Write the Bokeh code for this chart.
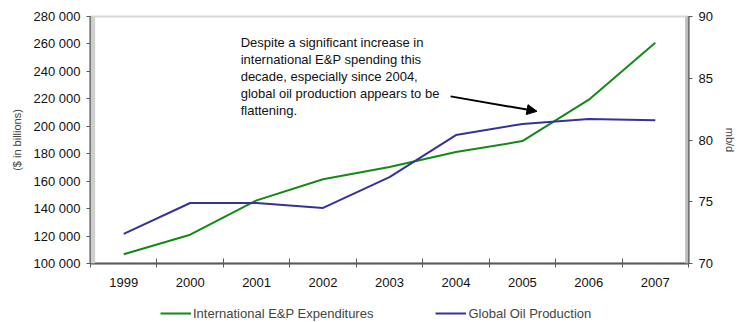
from bokeh.plotting import figure
from bokeh.layouts import column
from bokeh.models import (Range1d, LinearAxis, FixedTicker, Label, Arrow, NormalHead,
                          Legend, LegendItem, BoxAnnotation)
from bokeh.embed import file_html
from bokeh.resources import INLINE

# ---- data ----
years = [1999, 2000, 2001, 2002, 2003, 2004, 2005, 2006, 2007]
year_labels = ["1999", "2000", "2001", "2002", "2003", "2004", "2005", "2006", "2007"]
ep_expenditures = [106800, 121000, 146000, 161400, 170300, 181200, 189200, 219400, 260900]
oil_production = [72.4, 74.9, 74.9, 74.5, 77.0, 80.4, 81.3, 81.7, 81.6]
left_ticks = [100000, 120000, 140000, 160000, 180000, 200000, 220000, 240000, 260000, 280000]
left_tick_labels = ["100 000", "120 000", "140 000", "160 000", "180 000",
                    "200 000", "220 000", "240 000", "260 000", "280 000"]
right_ticks = [70, 75, 80, 85, 90]
series_names = ["International E&P Expenditures", "Global Oil Production"]
note = ("Despite a significant increase in\ninternational E&P spending this\n"
        "decade, especially since 2004,\nglobal oil production appears to be\nflattening.")

FONT = "Liberation Sans"
GREEN = "#138a13"
BLUE = "#333399"
AXIS = "#5a5a5a"
NAN = float("nan")

p = figure(width=742, height=300, output_backend="svg", toolbar_location=None,
           x_range=Range1d(1998.5, 2007.5), y_range=Range1d(100000, 280000),
           min_border_left=90, min_border_right=54, min_border_top=16, min_border_bottom=37)
p.extra_y_ranges = {"prod": Range1d(70, 90)}
p.xgrid.visible = False
p.ygrid.visible = False
p.outline_line_color = "#d8d8d8"
p.outline_line_width = 2
p.background_fill_color = "white"
p.border_fill_color = "white"

# decorative gray bands at frame edges
p.add_layout(BoxAnnotation(left=1998.5, right=1998.57, fill_color="#cfcfcf", fill_alpha=1,
                           line_alpha=0))
p.add_layout(BoxAnnotation(left=2007.45, right=2007.5, fill_color="#bdbdbd", fill_alpha=1,
                           line_alpha=0))

r1 = p.line(years, ep_expenditures, line_color=GREEN, line_width=2)
r2 = p.line(years, oil_production, line_color=BLUE, line_width=2, y_range_name="prod")

# x axis
xa = p.xaxis[0]
xa.ticker = FixedTicker(ticks=years, minor_ticks=[y - 0.5 for y in years] + [2007.5])
xa.major_label_overrides = {y: l for y, l in zip(years, year_labels)}
xa.major_tick_out = 0
xa.major_tick_in = 0
xa.minor_tick_out = 4
xa.minor_tick_in = 5
xa.minor_tick_line_color = AXIS
xa.axis_line_color = AXIS
xa.axis_line_width = 2
xa.major_label_standoff = 10
xa.major_label_text_font = FONT
xa.major_label_text_font_size = "13px"
xa.major_label_text_color = "#111111"

# left axis
ya = p.yaxis[0]
ya.ticker = FixedTicker(ticks=left_ticks, minor_ticks=[])
ya.major_label_overrides = {t: l for t, l in zip(left_ticks, left_tick_labels)}
ya.major_tick_out = 4
ya.major_tick_in = 0
ya.major_tick_line_color = AXIS
ya.axis_line_color = AXIS
ya.axis_line_width = 2
ya.major_label_standoff = 6
ya.major_label_text_font = FONT
ya.major_label_text_font_size = "13px"
ya.major_label_text_color = "#111111"
ya.axis_label = "($ in billions)"
ya.axis_label_text_font = FONT
ya.axis_label_text_font_size = "11px"
ya.axis_label_text_font_style = "normal"
ya.axis_label_standoff = 8

# right axis
ra = LinearAxis(y_range_name="prod", ticker=FixedTicker(ticks=right_ticks, minor_ticks=[]))
ra.major_tick_out = 4
ra.major_tick_in = 0
ra.major_tick_line_color = AXIS
ra.axis_line_color = AXIS
ra.axis_line_width = 2
ra.major_label_standoff = 6
ra.major_label_text_font = FONT
ra.major_label_text_font_size = "13px"
ra.major_label_text_color = "#111111"
ra.axis_label = "mb/d"
ra.axis_label_text_font = FONT
ra.axis_label_text_font_size = "11px"
ra.axis_label_text_font_style = "normal"
ra.axis_label_standoff = 8
p.add_layout(ra, "right")

# annotation
p.add_layout(Label(x=2000.76, y=266200, text=note, text_font=FONT, text_font_size="13px",
                   text_baseline="top", text_align="left", text_line_height=1.12,
                   text_color="#111111"))
p.add_layout(Arrow(end=NormalHead(size=10, fill_color="black", line_color="black"),
                   x_start=2003.92, y_start=221800, x_end=2005.22, y_end=210900,
                   line_color="black", line_width=2))

# legend strip below the chart (its frame is aligned with the chart frame by the column)
lg = figure(width=742, height=22, output_backend="svg", toolbar_location=None,
            x_axis_location=None, y_axis_location=None, min_border=0,
            x_range=Range1d(0, 1), y_range=Range1d(0, 1))
lg.grid.visible = False
lg.outline_line_color = None
lg.border_fill_color = "white"
d1 = lg.line(x=[NAN], y=[NAN], line_color=GREEN, line_width=2)
d2 = lg.line(x=[NAN], y=[NAN], line_color=BLUE, line_width=2)
legend = Legend(items=[LegendItem(label=series_names[0], renderers=[d1]),
                       LegendItem(label=series_names[1], renderers=[d2])],
                orientation="horizontal", location=(70, 1), padding=0, margin=0,
                spacing=62, glyph_width=31, glyph_height=16, label_height=16,
                label_standoff=2, label_text_font=FONT, label_text_font_size="13px",
                label_text_baseline="middle",
                border_line_alpha=0, background_fill_alpha=0)
lg.add_layout(legend, "center")

layout = column(p, lg, spacing=0)
open("out.html", "w").write(file_html(layout, INLINE))
